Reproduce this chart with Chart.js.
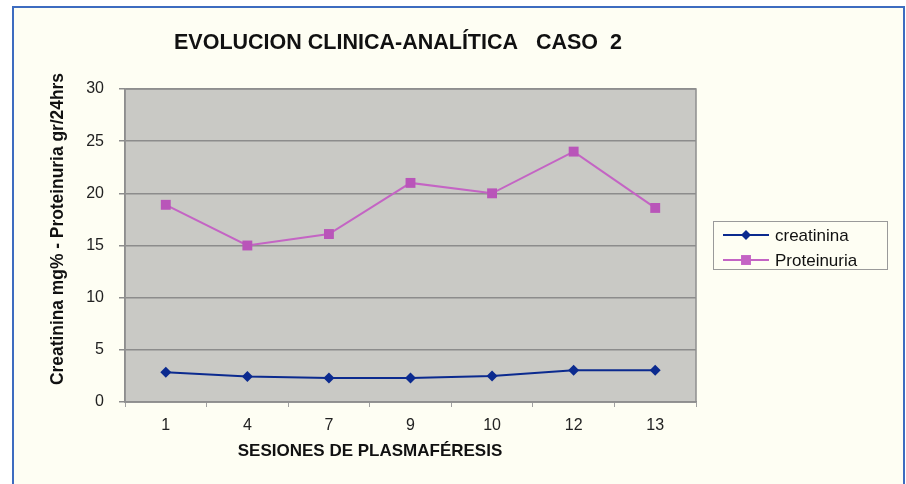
<!DOCTYPE html>
<html>
<head>
<meta charset="utf-8">
<script src="https://cdn.jsdelivr.net/npm/chart.js@4.4.0/dist/chart.umd.min.js"></script>
<style>
  html, body { margin: 0; padding: 0; background: #ffffff; }
  #frame {
    position: absolute; left: 12px; top: 6px; width: 889px; height: 490px;
    border: 2px solid #3d6cc0; border-bottom: none; background: #fefef3;
  }
  #wrap { position: absolute; left: 0; top: 0; width: 906px; height: 484px; }
</style>
</head>
<body>
<div id="frame"></div>
<div id="wrap"><canvas id="chart" width="906" height="484"></canvas></div>
<script>
// --- DATA ---
const sessions = ['1', '4', '7', '9', '10', '12', '13'];
const creatinina = [2.85, 2.45, 2.3, 2.3, 2.5, 3.05, 3.05];
const proteinuria = [18.9, 15.0, 16.1, 21.0, 20.0, 24.0, 18.6];
const yTicks = [0, 5, 10, 15, 20, 25, 30];

const TITLE = 'EVOLUCION CLINICA-ANALÍTICA   CASO  2';
const X_TITLE = 'SESIONES DE PLASMAFÉRESIS';
const Y_TITLE = 'Creatinina mg% - Proteinuria gr/24hrs';

const NAVY = '#0b2a8f';
const PINK = '#c464c4';
const FONT = '"Liberation Sans", Arial, sans-serif';

// --- PLUGINS ---
const plotBackground = {
    id: 'plotBackground',
    beforeDraw(chart) {
        const { ctx, chartArea: a } = chart;
        ctx.save();
        ctx.fillStyle = '#c9c9c5';
        ctx.fillRect(a.left, a.top, a.right - a.left, a.bottom - a.top);
        ctx.restore();
    },
    afterDatasetsDraw(chart) {
        const { ctx, chartArea: a } = chart;
        ctx.save();
        ctx.strokeStyle = '#8e8e8e';
        ctx.lineWidth = 1.5;
        ctx.strokeRect(a.left, a.top, a.right - a.left, a.bottom - a.top);
        ctx.restore();
    }
};

// text squeezed a little, like the original sheet's narrow Arial
function narrowText(ctx, text, x, y, width) {
    const w = ctx.measureText(text).width;
    const k = Math.min(1, width / w);
    ctx.save();
    ctx.translate(x, y);
    ctx.scale(k, 1);
    ctx.fillText(text, 0, 0);
    ctx.restore();
}

// title, axis titles and boxed legend placed like the original sheet
const sheetText = {
    id: 'sheetText',
    afterDraw(chart) {
        const { ctx } = chart;
        ctx.save();
        ctx.fillStyle = '#111';
        ctx.textAlign = 'center';
        ctx.textBaseline = 'middle';

        ctx.font = 'bold 22px ' + FONT;
        narrowText(ctx, TITLE, 398, 43, 448);

        ctx.font = 'bold 17px ' + FONT;
        narrowText(ctx, X_TITLE, 370, 451, 266);

        ctx.save();
        ctx.translate(58, 229);
        ctx.rotate(-Math.PI / 2);
        ctx.font = 'bold 17.5px ' + FONT;
        narrowText(ctx, Y_TITLE, 0, 0, 312);
        ctx.restore();

        // legend
        ctx.strokeStyle = '#9a9a9a';
        ctx.lineWidth = 1;
        ctx.strokeRect(713.5, 221.5, 174, 48);
        const items = [
            { label: 'creatinina', color: NAVY, style: 'rectRot', r: 5, y: 235 },
            { label: 'Proteinuria', color: PINK, style: 'rect', r: 7, y: 260 }
        ];
        ctx.font = '17px ' + FONT;
        ctx.textAlign = 'left';
        items.forEach(it => {
            ctx.strokeStyle = it.color;
            ctx.lineWidth = 2;
            ctx.beginPath();
            ctx.moveTo(723, it.y);
            ctx.lineTo(769, it.y);
            ctx.stroke();
            ctx.fillStyle = it.color;
            Chart.helpers.drawPoint(ctx, { pointStyle: it.style, radius: it.r, borderWidth: 0 }, 746, it.y);
            ctx.fillStyle = '#111';
            ctx.fillText(it.label, 775, it.y + 1);
        });
        ctx.restore();
    }
};

// --- CHART ---
new Chart(document.getElementById('chart'), {
    type: 'line',
    data: {
        labels: sessions,
        datasets: [
            {
                label: 'creatinina', data: creatinina,
                borderColor: NAVY, backgroundColor: NAVY, borderWidth: 2,
                pointStyle: 'rectRot', pointRadius: 5.5, pointBorderWidth: 0, tension: 0
            },
            {
                label: 'Proteinuria', data: proteinuria,
                borderColor: PINK, backgroundColor: '#b955b9', borderWidth: 2,
                pointStyle: 'rect', pointRadius: 7, pointBorderWidth: 0, tension: 0
            }
        ]
    },
    options: {
        responsive: false,
        animation: false,
        layout: { padding: { left: 0, top: 89, right: 210, bottom: 0 } },
        plugins: { legend: { display: false }, tooltip: { enabled: false }, title: { display: false } },
        scales: {
            x: {
                offset: true,
                afterFit: s => { s.height = 82; },
                grid: { offset: true, drawOnChartArea: false, drawTicks: true, tickLength: 5, color: '#a0a0a0' },
                border: { color: '#8e8e8e', width: 1.5 },
                ticks: { color: '#222', font: { family: FONT, size: 16 }, padding: 9, maxRotation: 0 }
            },
            y: {
                min: 0, max: 30,
                afterFit: s => { s.width = 125; },
                afterBuildTicks: s => { s.ticks = yTicks.map(v => ({ value: v })); },
                grid: { color: '#8c8c8c', lineWidth: 1.5, drawTicks: true, tickLength: 6 },
                border: { color: '#8e8e8e', width: 1.5 },
                ticks: { color: '#222', font: { family: FONT, size: 16 }, padding: 15 }
            }
        }
    },
    plugins: [plotBackground, sheetText]
});
</script>
</body>
</html>
